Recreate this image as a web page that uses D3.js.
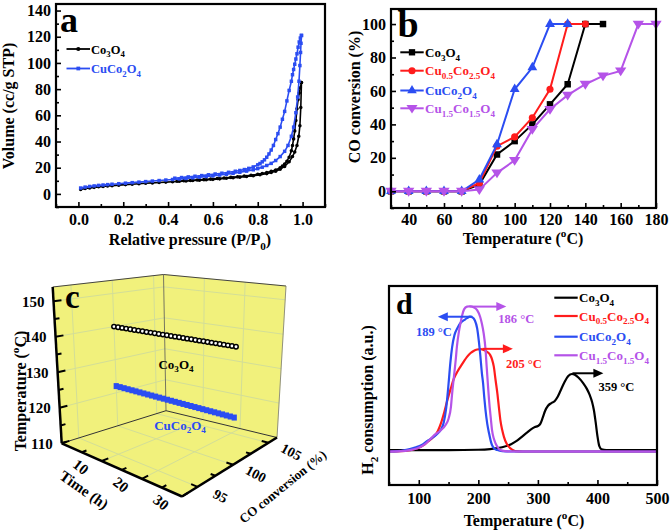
<!DOCTYPE html>
<html><head><meta charset="utf-8">
<script src="https://cdn.jsdelivr.net/npm/d3@7"></script>
<style>
body{margin:0;background:#fff;}
svg text{font-family:"Liberation Serif","Times New Roman",serif;font-weight:bold;}
</style></head><body>
<svg id="fig" width="672" height="532" xmlns="http://www.w3.org/2000/svg"></svg>
<script>
// ================= DATA =================
// Panel a: N2 isotherms [P/P0, volume]
const pressureTicks = [0, 0.2, 0.4, 0.6, 0.8, 1.0];
const pressureMinor = [-0.1, 0.1, 0.3, 0.5, 0.7, 0.9, 1.1];
const volumeTicks = [0, 20, 40, 60, 80, 100, 120, 140];
const volumeMinor = [-10, 10, 30, 50, 70, 90, 110, 130];
const co3o4Ads = [[0.01,3.4],[0.03,4.1],[0.05,4.6],[0.07,5.0],[0.09,5.4],[0.11,5.7],[0.13,6.0],[0.15,6.3],[0.18,6.7],[0.21,7.1],[0.24,7.4],[0.27,7.8],[0.30,8.1],[0.33,8.4],[0.36,8.7],[0.39,9.0],[0.42,9.3],[0.45,9.6],[0.48,9.9],[0.51,10.2],[0.54,10.5],[0.57,10.8],[0.60,11.1],[0.63,11.5],[0.66,11.9],[0.69,12.3],[0.72,12.8],[0.75,13.3],[0.78,13.9],[0.81,14.6],[0.84,15.5],[0.86,16.3],[0.88,17.3],[0.90,18.8],[0.92,21.0],[0.94,24.5],[0.955,28.5],[0.965,32],[0.975,37],[0.983,44],[0.988,52],[0.992,66],[0.995,85]];
const co3o4Des = [[0.995,85],[0.99,81],[0.985,77],[0.98,72],[0.975,65],[0.97,56],[0.965,48],[0.96,42],[0.955,37],[0.95,33],[0.94,28],[0.93,25],[0.92,22.8],[0.91,21.2],[0.90,20.0],[0.88,18.3],[0.86,17.2],[0.84,16.3],[0.82,15.6],[0.80,15.0],[0.77,14.3],[0.74,13.7],[0.71,13.1],[0.68,12.6],[0.65,12.1],[0.62,11.7],[0.59,11.3],[0.56,10.9],[0.53,10.6],[0.50,10.3],[0.47,10.0],[0.44,9.7]];
const cuco2o4Ads = [[0.01,4.5],[0.03,5.2],[0.05,5.7],[0.07,6.1],[0.09,6.5],[0.11,6.8],[0.13,7.1],[0.15,7.4],[0.18,7.8],[0.21,8.2],[0.24,8.6],[0.27,9.0],[0.30,9.4],[0.33,9.8],[0.36,10.2],[0.39,10.6],[0.42,11.0],[0.45,11.4],[0.48,11.8],[0.51,12.3],[0.54,12.8],[0.57,13.3],[0.60,13.8],[0.63,14.4],[0.66,15.0],[0.69,15.7],[0.72,16.5],[0.75,17.4],[0.78,18.4],[0.80,19.3],[0.82,20.4],[0.84,21.7],[0.86,23.3],[0.88,25.5],[0.90,28.5],[0.92,32.5],[0.935,37],[0.95,44],[0.96,51],[0.97,62],[0.978,74],[0.984,86],[0.988,98],[0.991,108],[0.993,115],[0.995,121]];
const cuco2o4Des = [[0.995,121],[0.99,119],[0.985,116],[0.98,112],[0.975,107],[0.97,103],[0.965,99],[0.96,95],[0.955,91],[0.95,86],[0.94,79],[0.93,71],[0.92,63],[0.91,57],[0.90,51],[0.89,46],[0.88,41.5],[0.87,37],[0.86,33.5],[0.85,30.5],[0.84,28],[0.83,26],[0.82,24.5],[0.81,23.2],[0.80,22.2],[0.78,20.6],[0.76,19.5],[0.74,18.6],[0.72,17.9],[0.70,17.3],[0.67,16.5],[0.64,15.8],[0.61,15.2],[0.58,14.6],[0.55,14.0],[0.52,13.5],[0.49,13.0],[0.46,12.5],[0.43,12.0]];

// Panel b: CO conversion vs temperature
const tempB = [30,40,50,60,70,80,90,100,110,120,130,140,150,160,170,180];
const tempBTicks = [40,60,80,100,120,140,160,180];
const tempBMinor = [30,50,70,90,110,130,150,170];
const convTicks = [0,20,40,60,80,100];
const convMinor = [-10,10,30,50,70,90];
const convCo3O4 = [0,0,0,0,0,4,22,30,40,52,64,100,100];
const convCu05 = [0,0,0,0,0,5,27,32.5,44,61,100,100];
const convCuCo2O4 = [0,0,0,0,0,7,28,61,74,100,100];
const convCu15 = [0,0,0,0,0,1,11,18.5,37,49,57.5,64,69,72,100,100];

// Panel c: stability test
const timeC = [0,1,2,3,4,5,6,7,8,9,10,11,12,13,14,15,16,17,18,19,20,21,22,23,24,25,26,27,28,29,30];
const convCCo3O4 = [100,100,100,100,100,100,100,100,100,100,100,100,100,100,100,100,100,100,100,100,100,100,100,100,100,100,100,100,100,100,100];
const convCCuCo2O4 = [100,100,100,100,100,100,100,100,100,100,100,100,100,100,100,100,100,100,100,100,100,100,100,100,100,100,100,100,100,100,100];
const tempCCo3O4 = 140;
const tempCCuCo2O4 = 122;
const cTempTicks = [110,120,130,140,150];
const cTempMinor = [115,125,135,145];
const cTimeTicks = [10,20,30];
const cTimeMinor = [0,5,15,25];
const cConvTicks = [95,100,105];
const cConvMinor = [97.5,102.5];

// Panel d: H2-TPR
const tprTicks = [100,200,300,400,500];
const tprMinor = [50,150,250,350,450];
const tprCo3O4 = [[50,0],[150,0],[200,0.01],[220,0.03],[240,0.08],[255,0.17],[265,0.27],[273,0.38],[281,0.49],[289,0.6],[295,0.66],[300,0.69],[304,0.75],[308,0.92],[312,1.12],[317,1.27],[322,1.34],[328,1.4],[333,1.52],[338,1.7],[345,1.96],[351,2.12],[357,2.18],[362,2.16],[368,2.08],[376,1.92],[382,1.76],[387,1.58],[391,1.38],[394,1.15],[397,0.8],[400,0.4],[403,0.12],[407,0.02],[415,0],[500,0]];
const tprCu05 = [[50,-0.04],[70,-0.03],[85,0],[98,0.05],[108,0.14],[115,0.24],[126,0.4],[132,0.55],[137,0.76],[143,1.1],[148,1.43],[154,1.78],[159,2.05],[165,2.25],[170,2.39],[176,2.55],[181,2.67],[187,2.78],[192,2.84],[198,2.88],[204,2.89],[209,2.87],[215,2.81],[220,2.72],[223,2.6],[226,2.39],[229,2.0],[232,1.62],[235,1.15],[237,0.86],[240,0.58],[243,0.38],[247,0.2],[251,0.1],[256,0.02],[262,-0.03],[275,-0.04],[500,-0.04]];
const tprCuCo2O4 = [[50,-0.04],[65,-0.03],[75,-0.01],[85,0.03],[95,0.08],[105,0.15],[115,0.27],[122,0.34],[130,0.45],[137,0.58],[142,0.8],[146,1.2],[150,1.9],[153,2.5],[156,2.95],[160,3.3],[165,3.5],[170,3.64],[176,3.72],[181,3.78],[186,3.82],[190,3.8],[194,3.72],[198,3.49],[201,3.1],[203,2.77],[206,2.2],[208,1.91],[210,1.5],[212,1.15],[215,0.75],[218,0.48],[221,0.25],[223,0.14],[227,0.04],[232,0],[240,-0.03],[255,-0.04],[500,-0.04]];
const tprCu15 = [[50,-0.04],[70,-0.03],[85,0],[98,0.05],[108,0.14],[115,0.24],[126,0.43],[137,0.57],[145,0.72],[150,0.9],[154,1.24],[156,1.62],[159,2.1],[162,2.58],[164,2.96],[167,3.35],[170,3.63],[173,3.87],[176,4.03],[181,4.11],[186,4.12],[192,4.09],[198,4.01],[203,3.82],[206,3.62],[209,3.34],[212,2.9],[214,2.39],[216,1.9],[218,1.43],[221,0.9],[223,0.57],[226,0.33],[229,0.19],[233,0.07],[237,0],[245,-0.03],[255,-0.04],[500,-0.04]];
const peakLabels = ["359 °C", "205 °C", "189 °C", "186 °C"];
const arrowStartT = [358, 207, 190, 185];
const arrowEndT = [410, 258, 132, 247];
const arrowLevel = [2.2, 2.9, 3.82, 4.11];

// ================= STYLE =================
const BLACK = "#000", RED = "#ff1c1c", BLUE = "#2b4df2", PURPLE = "#b553e8";
const svg = d3.select("#fig");
const FONT = '"Liberation Serif","Times New Roman",serif';

function rich(el, s, fs) {
  const re = /([_^])\{([^}]*)\}/g; let last = 0, m, cur = 0;
  const seg = (txt, off, size) => { el.append("tspan").attr("dy", off - cur).attr("font-size", size).text(txt); cur = off; };
  while ((m = re.exec(s))) {
    if (m.index > last) seg(s.slice(last, m.index), 0, fs);
    seg(m[2], m[1] === "_" ? fs * 0.3 : -fs * 0.42, fs * 0.7);
    last = re.lastIndex;
  }
  if (last < s.length) seg(s.slice(last), 0, fs);
  return el;
}
function txt(g, x, y, s, fs, opts = {}) {
  const t = g.append("text").attr("x", x).attr("y", y).attr("font-size", fs)
    .attr("fill", opts.fill || "#000").attr("text-anchor", opts.anchor || "start");
  if (opts.transform) t.attr("transform", opts.transform).attr("x", 0).attr("y", 0);
  rich(t, s, fs);
  return t;
}
function styleAxis(g, fs) {
  g.select(".domain").remove();
  g.selectAll(".tick line").attr("stroke", "#000").attr("stroke-width", 1.6);
  g.selectAll(".tick text").attr("font-size", fs).attr("font-family", FONT).attr("font-weight", "bold").attr("fill", "#000");
}
function frame(x, y, fs, xT, xM, yT, yM, fmtX, fmtY, xPad, yPad) {
  const [x0, x1] = x.range(), [y0, y1] = y.range();
  const ax = svg.append("g").attr("transform", `translate(0,${y0})`)
    .call(d3.axisBottom(x).tickValues(xT).tickSize(-5).tickPadding(xPad).tickFormat(fmtX));
  styleAxis(ax, fs);
  const axm = svg.append("g").attr("transform", `translate(0,${y0})`)
    .call(d3.axisBottom(x).tickValues(xM).tickSize(-3).tickFormat(""));
  styleAxis(axm, fs);
  if (yT) {
    const ay = svg.append("g").attr("transform", `translate(${x0},0)`)
      .call(d3.axisLeft(y).tickValues(yT).tickSize(-5).tickPadding(yPad).tickFormat(fmtY));
    styleAxis(ay, fs);
    const aym = svg.append("g").attr("transform", `translate(${x0},0)`)
      .call(d3.axisLeft(y).tickValues(yM).tickSize(-3).tickFormat(""));
    styleAxis(aym, fs);
  }
  svg.append("rect").attr("x", x0).attr("y", y1).attr("width", x1 - x0).attr("height", y0 - y1)
    .attr("fill", "none").attr("stroke", "#000").attr("stroke-width", 2.2);
}

// ================= PANEL A =================
const xA = d3.scaleLinear().domain([-0.1, 1.1]).range([56, 325]);
const yA = d3.scaleLinear().domain([-10, 145]).range([207, 4]);
const lineA = d3.line().x(d => xA(d[0])).y(d => yA(d[1]));
const gA = svg.append("g");
function isotherm(data, color, shape) {
  gA.append("path").attr("d", lineA(data)).attr("fill", "none").attr("stroke", color).attr("stroke-width", 1.6);
  gA.selectAll(null).data(data).enter().append("path")
    .attr("transform", d => `translate(${xA(d[0])},${yA(d[1])})`)
    .attr("d", d3.symbol().type(shape).size(shape === d3.symbolSquare ? 12 : 10)).attr("fill", color);
}
isotherm(co3o4Ads, BLACK, d3.symbolCircle);
isotherm(co3o4Des, BLACK, d3.symbolCircle);
isotherm(cuco2o4Ads, BLUE, d3.symbolSquare);
isotherm(cuco2o4Des, BLUE, d3.symbolSquare);
frame(xA, yA, 16, pressureTicks, pressureMinor, volumeTicks, volumeMinor, d3.format(".1f"), d3.format("d"), 7, 5);
txt(svg, 60, 32, "a", 36);
txt(svg, 190, 245, "Relative pressure (P/P_{0})", 16, { anchor: "middle" });
txt(svg, 0, 0, "Volume (cc/g STP)", 16, { anchor: "middle", transform: "translate(14,106) rotate(-90)" });
// legend a
[[co3o4Ads, BLACK, d3.symbolCircle, "Co_{3}O_{4}", 49], [cuco2o4Ads, BLUE, d3.symbolSquare, "CuCo_{2}O_{4}", 68.5]].forEach(l => {
  svg.append("line").attr("x1", 66.5).attr("x2", 90).attr("y1", l[4]).attr("y2", l[4]).attr("stroke", l[1]).attr("stroke-width", 1.8);
  svg.append("path").attr("transform", `translate(78.3,${l[4]})`).attr("d", d3.symbol().type(l[2]).size(14)).attr("fill", l[1]);
  txt(svg, 91, l[4] + 4.5, l[3], 12.5, { fill: l[1] });
});

// ================= PANEL B =================
const xB = d3.scaleLinear().domain([30, 180]).range([391, 656]);
const yB = d3.scaleLinear().domain([-10, 109]).range([208, 9]);
const seriesB = [
  { v: convCo3O4, c: BLACK, s: d3.symbolSquare, n: "Co_{3}O_{4}" },
  { v: convCu05, c: RED, s: d3.symbolCircle, n: "Cu_{0.5}Co_{2.5}O_{4}" },
  { v: convCuCo2O4, c: BLUE, s: d3.symbolTriangle, n: "CuCo_{2}O_{4}" },
  { v: convCu15, c: PURPLE, s: "down", n: "Cu_{1.5}Co_{1.5}O_{4}" }
];
const triDown = { draw(ctx, size) { const r = Math.sqrt(size / 1.3); ctx.moveTo(-r, -r * 0.6); ctx.lineTo(r, -r * 0.6); ctx.lineTo(0, r * 0.95); ctx.closePath(); } };
const lineB = d3.line().x((d, i) => xB(tempB[i])).y(d => yB(d));
seriesB.forEach(s => {
  svg.append("path").attr("d", lineB(s.v)).attr("fill", "none").attr("stroke", s.c).attr("stroke-width", 2);
  svg.selectAll(null).data(s.v).enter().append("path")
    .attr("transform", (d, i) => `translate(${xB(tempB[i])},${yB(d)})`)
    .attr("d", d3.symbol().type(s.s === "down" ? triDown : s.s).size(s.s === d3.symbolCircle ? 40 : 42)).attr("fill", s.c);
});
frame(xB, yB, 16, tempBTicks, tempBMinor, convTicks, convMinor, d3.format("d"), d3.format("d"), 6, 5);
txt(svg, 397.5, 36.5, "b", 38);
txt(svg, 523, 244, "Temperature (^{o}C)", 16, { anchor: "middle" });
txt(svg, 0, 0, "CO conversion (%)", 16, { anchor: "middle", transform: "translate(360,97) rotate(-90)" });
[52.3, 70.7, 90.5, 108.3].forEach((y, i) => {
  const s = seriesB[i];
  svg.append("line").attr("x1", 400.3).attr("x2", 423.7).attr("y1", y).attr("y2", y).attr("stroke", s.c).attr("stroke-width", 2);
  svg.append("path").attr("transform", `translate(412,${y})`).attr("d", d3.symbol().type(s.s === "down" ? triDown : s.s).size(40)).attr("fill", s.c);
  txt(svg, 425, y + 4.5, s.n, 13, { fill: s.c });
});

// ================= PANEL C (3D) =================
const gC = svg.append("g");
const tS = d3.scaleLinear().domain([0, 30]).range([0, 1]);
const cS = d3.scaleLinear().domain([92.8, 106.2]).range([0, 1]);
const TS = d3.scaleLinear().domain([110, 154]).range([0, 1]);
const boxL = [61.7, 443.3], boxF = [182, 496.5], boxR = [277, 437.5], boxB = [166, 410.7];
const boxLt = [52.7, 287], boxFt = [181, 298], boxRt = [286, 286], boxBt = [163.5, 274.5];
const lerp = (p, q, s) => [p[0] + (q[0] - p[0]) * s, p[1] + (q[1] - p[1]) * s];
function proj(t, c, T) {
  const a = tS(t), b = cS(c), v = TS(T);
  const bot = lerp(lerp(boxL, boxF, a), lerp(boxB, boxR, a), b);
  const top = lerp(lerp(boxLt, boxFt, a), lerp(boxBt, boxRt, a), b);
  return lerp(bot, top, v);
}
const [t0, t1] = tS.domain(), [c0, c1] = cS.domain(), [T0, T1] = TS.domain();
const YEL = "#f1f17c", GRID = "#d3de98";
const poly = pts => gC.append("polygon").attr("points", pts.map(p => p.join(",")).join(" ")).attr("fill", YEL).attr("stroke", YEL).attr("stroke-width", 0.5);
poly([proj(t0, c0, T0), proj(t0, c1, T0), proj(t0, c1, T1), proj(t0, c0, T1)]);
poly([proj(t0, c1, T0), proj(t1, c1, T0), proj(t1, c1, T1), proj(t0, c1, T1)]);
poly([proj(t0, c0, T0), proj(t1, c0, T0), proj(t1, c1, T0), proj(t0, c1, T0)]);
const seg = (p, q, col, w) => gC.append("line").attr("x1", p[0]).attr("y1", p[1]).attr("x2", q[0]).attr("y2", q[1]).attr("stroke", col).attr("stroke-width", w);
cTempTicks.slice(1).forEach(T => { seg(proj(t0, c0, T), proj(t0, c1, T), GRID, 1); seg(proj(t0, c1, T), proj(t1, c1, T), GRID, 1); });
cConvTicks.forEach(c => { seg(proj(t0, c, T0), proj(t0, c, T1), GRID, 1); seg(proj(t0, c, T0), proj(t1, c, T0), GRID, 1); });
cTimeTicks.slice(0, 2).forEach(t => { seg(proj(t, c1, T0), proj(t, c1, T1), GRID, 1); seg(proj(t, c0, T0), proj(t, c1, T0), GRID, 1); });
// box edges
seg(proj(t0, c0, T1), proj(t0, c1, T1), "#444", 1);
seg(proj(t0, c1, T1), proj(t1, c1, T1), "#444", 1);
seg(proj(t0, c1, T0), proj(t0, c1, T1), "#555", 0.8);
seg(proj(t1, c1, T0), proj(t1, c1, T1), "#777", 0.8);
seg(proj(t0, c0, T0), proj(t0, c1, T0), "#333", 1);
seg(proj(t0, c1, T0), proj(t1, c1, T0), "#333", 1);
// data
timeC.forEach((t, i) => {
  const p = proj(t, convCCuCo2O4[i], tempCCuCo2O4);
  gC.append("rect").attr("x", p[0] - 2.6).attr("y", p[1] - 3).attr("width", 5.2).attr("height", 6).attr("fill", BLUE);
});
timeC.forEach((t, i) => {
  const p = proj(t, convCCo3O4[i], tempCCo3O4);
  gC.append("circle").attr("cx", p[0]).attr("cy", p[1]).attr("r", 2.2).attr("fill", "#fff").attr("stroke", "#000").attr("stroke-width", 1.5);
});
// axes
seg(proj(t0, c0, T0), proj(t0, c0, T1), "#000", 2.5);
seg(proj(t0, c0, T0), proj(t1, c0, T0), "#000", 2.5);
seg(proj(t1, c0, T0), proj(t1, c1, T0), "#000", 2.5);
function tick(p, q, len) {
  const dx = q[0] - p[0], dy = q[1] - p[1], n = Math.hypot(dx, dy);
  seg(p, [p[0] + dx / n * len, p[1] + dy / n * len], "#000", 2);
}
cTempTicks.forEach(T => tick(proj(t0, c0, T), proj(t0, c1, T), 8));
cTempMinor.forEach(T => tick(proj(t0, c0, T), proj(t0, c1, T), 5));
cTimeTicks.forEach(t => tick(proj(t, c0, T0), proj(t, c1, T0), 7));
cTimeMinor.forEach(t => tick(proj(t, c0, T0), proj(t, c1, T0), 5));
cConvTicks.forEach(c => tick(proj(t1, c, T0), proj(t0, c, T0), 7));
cConvMinor.forEach(c => tick(proj(t1, c, T0), proj(t0, c, T0), 5));
cTempTicks.forEach(T => { const p = proj(t0, c0, T); txt(gC, p[0] - 9, p[1] + 5.5, String(T), 15, { anchor: "end" }); });
cTimeTicks.forEach(t => { const p = proj(t, c0, T0); txt(gC, 0, 0, String(t), 15, { anchor: "middle", transform: `translate(${p[0] - 21},${p[1] + 6}) rotate(38) translate(0,5)` }); });
cConvTicks.forEach(c => { const p = proj(t1, c, T0); txt(gC, 0, 0, String(c), 14, { anchor: "middle", transform: `translate(${p[0] + 23},${p[1] + 9}) rotate(28) translate(0,5)` }); });
txt(gC, 0, 0, "Temperature (^{o}C)", 16, { anchor: "middle", transform: "translate(26,391) rotate(-90)" });
txt(gC, 0, 0, "Time (h)", 15, { anchor: "middle", transform: "translate(84,490) rotate(35) translate(0,5)" });
txt(gC, 0, 0, "CO conversion (%)", 13, { anchor: "middle", transform: "translate(283,487) rotate(-39) translate(0,4)" });
txt(gC, 65, 308, "c", 33);
txt(gC, 176, 368.5, "Co_{3}O_{4}", 13, { anchor: "middle" });
txt(gC, 180, 429.5, "CuCo_{2}O_{4}", 13, { anchor: "middle", fill: BLUE });

// ================= PANEL D =================
const xD = d3.scaleLinear().domain([50, 500]).range([389, 657]);
const yD = d3.scaleLinear().domain([-1, 4.7]).range([485, 286]);
const lineD = d3.line().x(d => xD(d[0])).y(d => yD(d[1])).curve(d3.curveMonotoneX);
const seriesD = [
  { d: tprCo3O4, c: BLACK, n: "Co_{3}O_{4}" },
  { d: tprCu05, c: RED, n: "Cu_{0.5}Co_{2.5}O_{4}" },
  { d: tprCuCo2O4, c: BLUE, n: "CuCo_{2}O_{4}" },
  { d: tprCu15, c: PURPLE, n: "Cu_{1.5}Co_{1.5}O_{4}" }
];
seriesD.forEach(s => svg.append("path").attr("d", lineD(s.d)).attr("fill", "none").attr("stroke", s.c).attr("stroke-width", 2.2));
const labelOff = [[13, 13], [11, 15], [-4, 15], [10, 12]];
seriesD.forEach((s, i) => {
  const y = yD(arrowLevel[i]), xa = xD(arrowStartT[i]), xb = xD(arrowEndT[i]);
  const dir = Math.sign(xb - xa);
  svg.append("line").attr("x1", xa).attr("x2", xb - dir * 6).attr("y1", y).attr("y2", y).attr("stroke", s.c).attr("stroke-width", 2);
  svg.append("path").attr("d", `M${xb},${y} L${xb - dir * 10},${y - 4.5} L${xb - dir * 10},${y + 4.5} Z`).attr("fill", s.c);
  txt(svg, xb + labelOff[i][0], y + labelOff[i][1] + 4.5, peakLabels[i], 12.5, { anchor: "middle", fill: s.c });
});
frame(xD, yD, 16, tprTicks, tprMinor, null, null, d3.format("d"), null, 8, 0);
txt(svg, 396, 314, "d", 30);
txt(svg, 524, 526, "Temperature (^{o}C)", 16, { anchor: "middle" });
txt(svg, 0, 0, "H_{2} consumption (a.u.)", 16, { anchor: "middle", transform: "translate(373,400) rotate(-90)" });
[297.7, 316, 336.7, 355.3].forEach((y, i) => {
  const s = seriesD[i];
  svg.append("line").attr("x1", 554.3).attr("x2", 577.7).attr("y1", y).attr("y2", y).attr("stroke", s.c).attr("stroke-width", 2.2);
  txt(svg, 579, y + 4.5, s.n, 13, { fill: s.c });
});
</script></body></html>
